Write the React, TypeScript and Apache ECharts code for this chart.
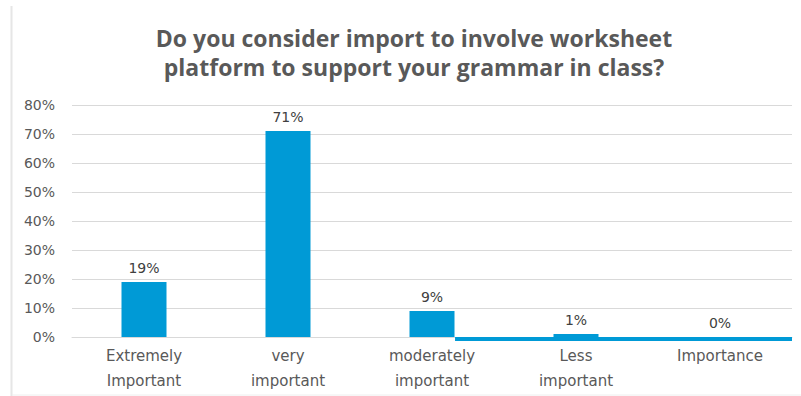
import React, { useEffect, useRef } from "react";
import * as echarts from "echarts";

const titleText = "Do you consider import to involve worksheet\nplatform to support your grammar in class?";
const categories = ["Extremely\nImportant", "very\nimportant", "moderately\nimportant", "Less\nimportant", "Importance"];
const values = [0.19, 0.71, 0.09, 0.01, 0];
const labels = ["19%", "71%", "9%", "1%", "0%"];
const yTicks = { min: 0, max: 0.8, interval: 0.1 };
// stray blue band along the baseline in the reference (x in category units)
const bandX = [2.16, 4.5];
const bandY = -0.007;

export default function App() {
  const ref = useRef<HTMLDivElement>(null);
  useEffect(() => {
    document.body.style.margin = "0";
    const chart = echarts.init(ref.current!, null, { renderer: "svg" });
    const grey = "#595959";
    chart.setOption({
      animation: false,
      title: {
        text: titleText,
        left: 414,
        textAlign: "center",
        top: 23,
        padding: 0,
        textStyle: {
          fontFamily: "Open Sans",
          fontWeight: "bold",
          fontSize: 23,
          lineHeight: 29,
          color: grey,
        },
      },
      grid: { left: 72, right: 9, top: 105, bottom: 59, containLabel: false },
      xAxis: [
        {
          type: "category",
          data: categories,
          axisLine: { show: true, lineStyle: { color: "#d9d9d9" } },
          axisTick: { show: false },
          axisLabel: {
            color: grey,
            fontFamily: "DejaVu Sans",
            fontSize: 15,
            lineHeight: 25,
            margin: 6,
            interval: 0,
          },
        },
        { type: "value", min: -0.5, max: 4.5, show: false },
      ],
      yAxis: {
        type: "value",
        min: yTicks.min,
        max: yTicks.max,
        interval: yTicks.interval,
        axisLine: { show: false },
        axisTick: { show: false },
        splitLine: { lineStyle: { color: "#d9d9d9", width: 1 } },
        axisLabel: {
          color: grey,
          fontFamily: "DejaVu Sans",
          fontSize: 14,
          margin: 17,
          formatter: (v: number) => Math.round(v * 100) + "%",
        },
      },
      series: [
        {
          type: "bar",
          data: values,
          barWidth: 45,
          itemStyle: { color: "#009ad6" },
          label: {
            show: true,
            position: "top",
            distance: 7,
            color: "#404040",
            fontFamily: "DejaVu Sans",
            fontSize: 14,
            formatter: (p: any) => labels[p.dataIndex],
          },
        },
        {
          type: "line",
          xAxisIndex: 1,
          data: [[bandX[0], bandY], [bandX[1], bandY]],
          symbol: "none",
          clip: false,
          lineStyle: { color: "#009ad6", width: 4 },
          z: 3,
        },
      ],
      graphic: [
        { type: "line", shape: { x1: 11.5, y1: 6, x2: 11.5, y2: 396 }, style: { stroke: "#e6e6e6", lineWidth: 2 } },
        { type: "line", shape: { x1: 12, y1: 395, x2: 801, y2: 395 }, style: { stroke: "#eeeeee", lineWidth: 1 } },
      ],
    });
    return () => chart.dispose();
  }, []);
  return <div ref={ref} style={{ width: 801, height: 396 }} />;
}
